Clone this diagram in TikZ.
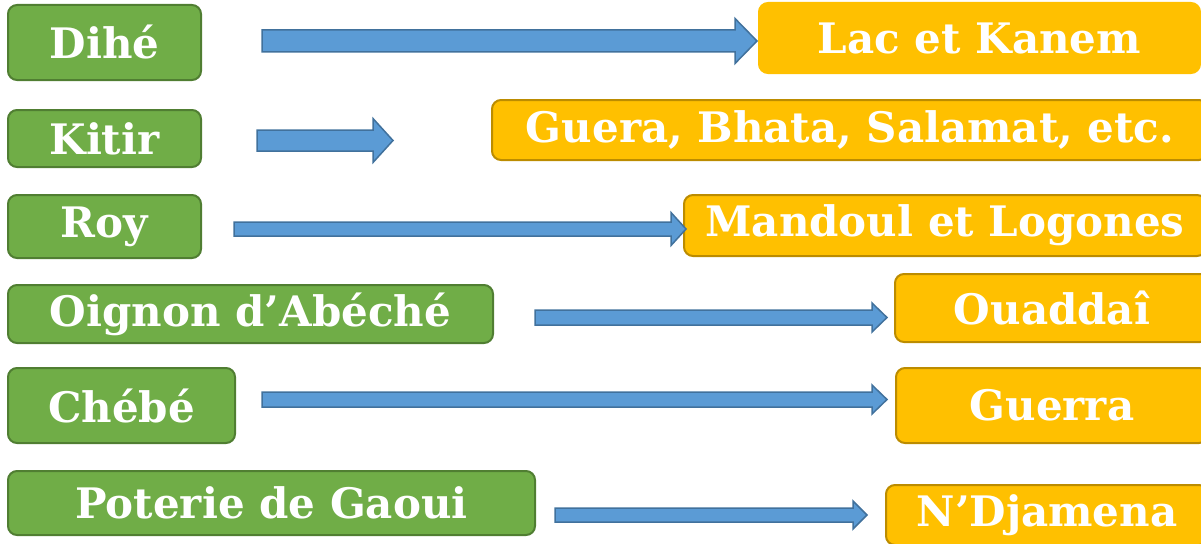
\documentclass[tikz,border=0pt]{standalone}
\usepackage{fontspec}
\setmainfont{DejaVu Serif}
\usetikzlibrary{calc}

\definecolor{leafgreen}{HTML}{70AD47}
\definecolor{leafedge}{HTML}{507E32}
\definecolor{amber}{HTML}{FFC000}
\definecolor{amberedge}{HTML}{BC8C00}
\definecolor{skyblue}{HTML}{5B9BD5}
\definecolor{skyedge}{HTML}{41719C}

\tikzset{
  label font/.style = {font = \fontsize{42pt}{44pt}\selectfont\bfseries, text = white},
  product/.style = {label font, fill = leafgreen, draw = leafedge, line width = 2pt, rounded corners = 9pt, inner sep = 0pt},
  region/.style = {label font, fill = amber, draw = amberedge, line width = 2pt, rounded corners = 9pt, inner sep = 0pt},
  fatarrow/.style = {fill = skyblue, draw = skyedge, line width = 1.5pt}
}

\newcommand{\blockarrow}[5]{%
  \draw [fatarrow] let \p1 = (#1), \p2 = (#2) in
    (\x1, \y1 - #3pt) -- (\x2 - #5pt, \y1 - #3pt) -- (\x2 - #5pt, \y1 - #4pt) -- (\x2, \y1)
    -- (\x2 - #5pt, \y1 + #4pt) -- (\x2 - #5pt, \y1 + #3pt) -- (\x1, \y1 + #3pt) -- cycle;
}

\begin{document}
\begin{tikzpicture}[x = 1pt, y = -1pt]
    \useasboundingbox (0, 0) rectangle (1201, 543);

    \node [product, minimum width = 193pt, minimum height = 75pt] (dihe) at (104.5, 42.5) {Dihé};
    \node [product, minimum width = 193pt, minimum height = 57pt] (kitir) at (104.5, 138.5) {Kitir};
    \node [product, minimum width = 193pt, minimum height = 63pt] (roy) at (104.5, 226.5) {Roy};
    \node [product, minimum width = 485pt, minimum height = 58pt] (oignon) at (250.5, 314) {Oignon d’Abéché};
    \node [product, minimum width = 227pt, minimum height = 75pt] (chebe) at (121.5, 405.5) {Chébé};
    \node [product, minimum width = 527pt, minimum height = 64pt] (poterie) at (271.5, 503) {Poterie de Gaoui};

    \node [region, draw = amber, minimum width = 441pt, minimum height = 70pt] (lac) at (979.5, 38) {Lac et Kanem};
    \node [region, minimum width = 716pt, minimum height = 60pt] (guera) at (850, 130) {Guera, Bhata, Salamat, etc.};
    \node [region, minimum width = 522pt, minimum height = 61pt] (mandoul) at (945, 225.5) {Mandoul et Logones};
    \node [region, minimum width = 314pt, minimum height = 68pt] (ouaddai) at (1052, 308) {Ouaddaî};
    \node [region, minimum width = 312pt, minimum height = 75pt] (guerra) at (1052, 405.5) {Guerra};
    \node [region, minimum width = 322pt, minimum height = 60pt] (ndjamena) at (1047, 515) {N’Djamena};

    \coordinate (dihe-from) at (262, 41);
    \coordinate (dihe-to) at (757, 41);
    \coordinate (kitir-from) at (257, 140.5);
    \coordinate (kitir-to) at (393, 140.5);
    \coordinate (roy-from) at (234, 229);
    \coordinate (roy-to) at (686, 229);
    \coordinate (oignon-from) at (535, 317.5);
    \coordinate (oignon-to) at (887, 317.5);
    \coordinate (chebe-from) at (262, 399.5);
    \coordinate (chebe-to) at (887, 399.5);
    \coordinate (poterie-from) at (555, 515);
    \coordinate (poterie-to) at (867, 515);

    \blockarrow{dihe-from}{dihe-to}{11}{22.5}{22}
    \blockarrow{kitir-from}{kitir-to}{10.5}{22}{20}
    \blockarrow{roy-from}{roy-to}{7}{16.5}{15}
    \blockarrow{oignon-from}{oignon-to}{7.5}{14.5}{15}
    \blockarrow{chebe-from}{chebe-to}{7.5}{14.5}{15}
    \blockarrow{poterie-from}{poterie-to}{7}{14}{14}
\end{tikzpicture}
\end{document}
